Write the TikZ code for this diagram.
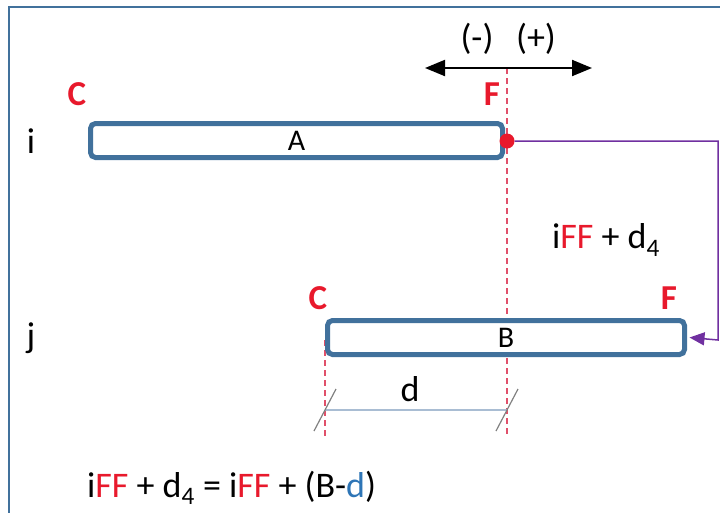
\documentclass[tikz,border=0pt]{standalone}
\usepackage{fontspec}
\setmainfont{Carlito}
\usetikzlibrary{arrows.meta,positioning}
\definecolor{barblue}{HTML}{41719C}
\definecolor{markred}{HTML}{E8192C}
\definecolor{dashred}{HTML}{E0506A}
\definecolor{linkpurple}{HTML}{7030A0}
\definecolor{dimblue}{HTML}{A9BDD3}
\definecolor{dblue}{HTML}{2E75B6}
\begin{document}
\begin{tikzpicture}[
        x=1pt, y=-1pt,
        bar/.style={rectangle, rounded corners=5pt, draw=barblue, line width=5pt, fill=white, minimum height=34pt, inner sep=0pt, font=\fontsize{30}{34}\selectfont},
        endmark/.style={text=markred, inner sep=0pt, font=\fontsize{35}{40}\selectfont\bfseries},
        rowname/.style={inner sep=0pt, font=\fontsize{36}{40}\selectfont},
        txt/.style={inner sep=0pt, font=\fontsize{36}{40}\selectfont},
        guide/.style={dashred, line width=1.5pt, dash pattern=on 6pt off 4pt},
        dimline/.style={dimblue, line width=2pt},
        dimtick/.style={gray, line width=1.2pt},
        arrow/.style={line width=2pt, {Triangle[length=20pt,width=16pt]}-{Triangle[length=20pt,width=16pt]}},
        link/.style={linkpurple, line width=1.5pt, -{Triangle[length=15pt,width=13pt]}}
    ]
        \useasboundingbox (0,0) rectangle (720,512);
        \draw [barblue, line width=2pt] (9,7) rectangle (740,530);

        % guide lines under the bars
        \coordinate (ftop) at (507,68);
        \coordinate (fbot) at (507,437);
        \coordinate (ctop) at (325,340);
        \coordinate (cbot) at (325,437);
        \draw [guide] (ftop) -- (fbot);
        \draw [guide] (ctop) -- (cbot);

        \node (barA) [bar, minimum width=412pt] at (296.5,140.5) {A};
        \node (barB) [bar, minimum width=357pt] at (506,337.5) {B};

        \node (rowi) [rowname] at (31,141) {i};
        \node (rowj) [rowname] at (31,338) {j};
        \node (cA) [endmark] at (77,94) {C};
        \node (fA) [endmark] at (492,94) {F};
        \node (cB) [endmark] at (318,298) {C};
        \node (fB) [endmark] at (669,298) {F};

        \node (dotF) [circle, fill=markred, inner sep=0pt, minimum size=15pt] at (507,141) {};

        % shift of F
        \coordinate (al) at (425,68);
        \coordinate (ar) at (592,68);
        \draw [arrow] (al) -- (ar);
        \node (neg) [txt] at (477,39) {(-)};
        \node (pos) [txt] at (536,39) {(+)};

        % link F -> F
        \coordinate (k1) at (718,141);
        \coordinate (k2) at (718,340);
        \draw [link] (dotF) -- (k1) -- (k2) -- ([xshift=2.5pt]barB.east);
        \node (lag) [txt] at (606,240) {i\textcolor{markred}{FF} + d\textsubscript{4}};

        % dimension d
        \coordinate (dl) at (325,410);
        \coordinate (dr) at (507,410);
        \draw [dimline] (dl) -- (dr);
        \draw [dimtick] ([shift={(-11,21)}]dl) -- ([shift={(11,-21)}]dl);
        \draw [dimtick] ([shift={(-11,21)}]dr) -- ([shift={(11,-21)}]dr);
        \node (dname) [txt] at (410,389) {d};

        \node (eq) [txt, anchor=west] at (87,488) {i\textcolor{markred}{FF} + d\textsubscript{4} = i\textcolor{markred}{FF} + (B-\textcolor{dblue}{d})};
    \end{tikzpicture}
\end{document}
